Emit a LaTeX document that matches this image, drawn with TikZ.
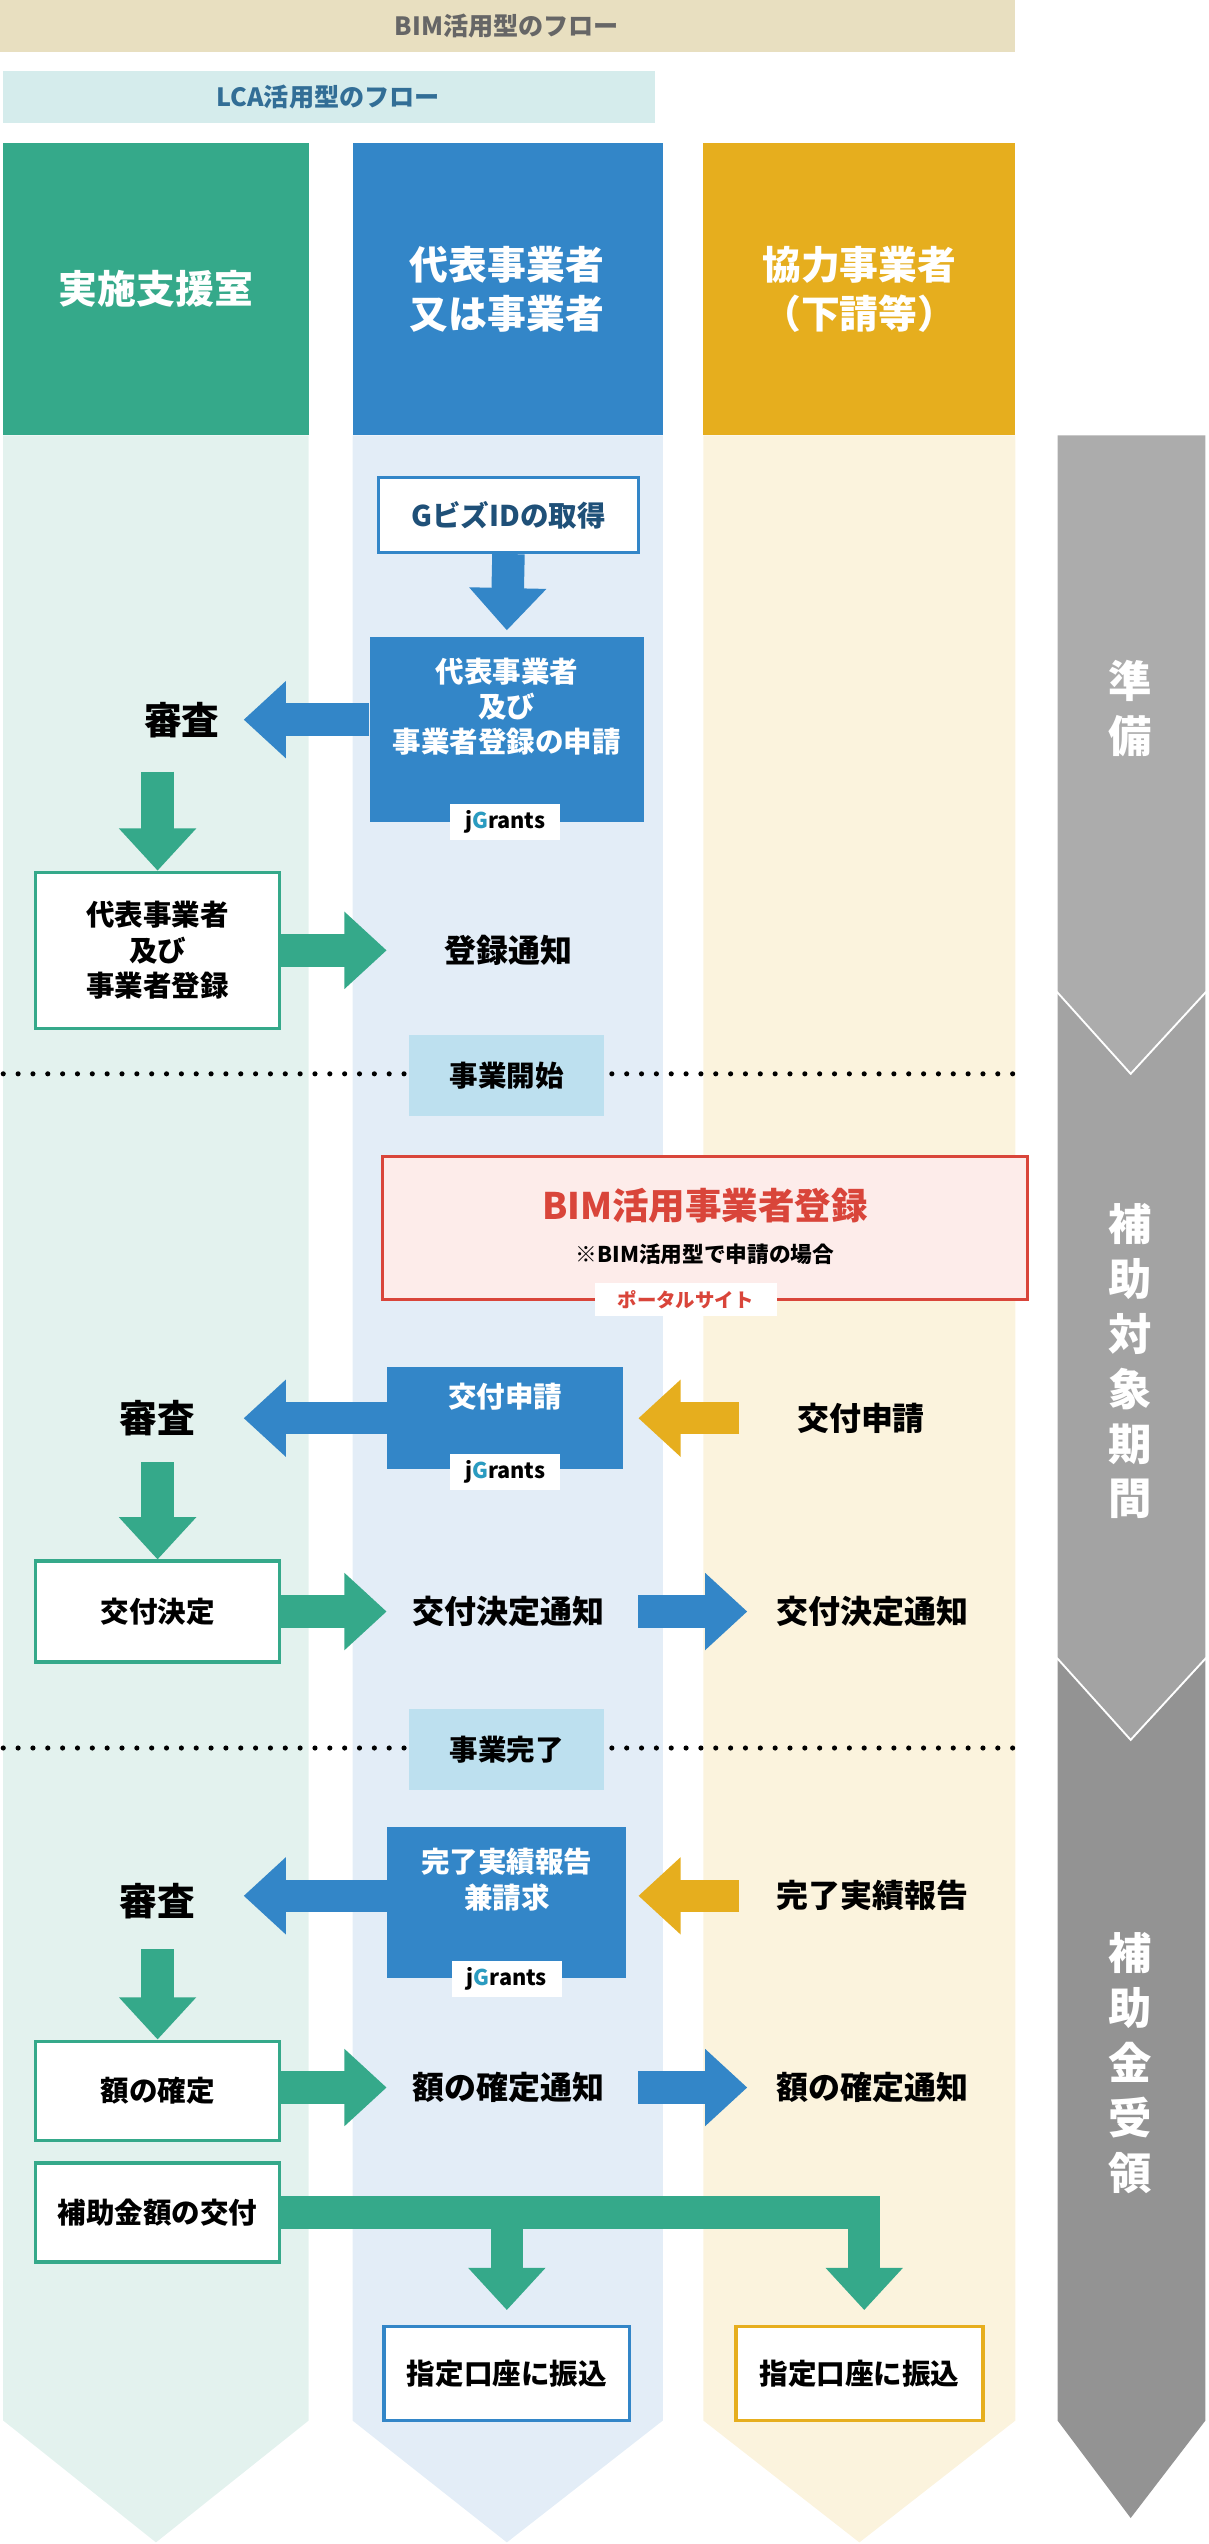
\documentclass[tikz,border=0pt]{standalone}
\usepackage{fontspec}
\setmainfont{Noto Sans CJK JP}
\usetikzlibrary{arrows.meta,positioning}
\definecolor{cgreen}{HTML}{35A98A}
\definecolor{cblue}{HTML}{3386C8}
\definecolor{cyellow}{HTML}{E6AE1E}
\definecolor{bgreen}{HTML}{E3F2EE}
\definecolor{bblue}{HTML}{E3EDF7}
\definecolor{byellow}{HTML}{FBF3DD}
\definecolor{cred}{HTML}{D9453A}
\definecolor{bred}{HTML}{FDECEA}
\definecolor{clight}{HTML}{BDE0EF}
\definecolor{jgblue}{HTML}{2A9BC0}
\definecolor{bimbg}{HTML}{E8DFC0}
\definecolor{lcabg}{HTML}{D5ECEC}
\definecolor{lcatxt}{HTML}{326E96}
\newcommand{\fs}[1]{\fontsize{#1}{\the\numexpr#1*5/4\relax}\selectfont}
\newcommand{\jg}{\fs{19}\bfseries j\textcolor{jgblue}{G}rants}
\tikzset{
  hdr/.style={text=white,font=\fs{34}\bfseries,align=center},
  wbox/.style={draw=#1,fill=white,line width=3pt,align=center,font=\fs{25}\bfseries},
  bbox/.style={fill=cblue,text=white,align=center,font=\fs{25}\bfseries},
  lbl/.style={font=\fs{28}\bfseries,align=center},
  shin/.style={font=\fs{33}\bfseries},
  tag/.style={fill=white,inner sep=2pt,minimum width=3.4cm,minimum height=1.1cm},
  sect/.style={fill=clight,font=\fs{25}\bfseries,minimum width=6cm,minimum height=2.5cm},
  fat/.style={#1,line width=1cm,-{Triangle[length=1.3cm,width=2.3cm]}},
  dots/.style={line width=4.5pt,line cap=round,dash pattern=on 0pt off 13pt},
  sidetxt/.style={text=white,font=\fs{38}\bfseries,align=center}
}
\begin{document}
\begin{tikzpicture}[x=0.05cm,y=-0.05cm]
\useasboundingbox (0,0) rectangle (744,1566);
% bars
\fill[bimbg] (0,0) rectangle (625,32);
\node[text=gray!80!black,font=\fs{22}\bfseries] (bimbar) at (312,16) {BIM活用型のフロー};
\fill[lcabg] (2,44) rectangle (403,76);
\node[text=lcatxt,font=\fs{22}\bfseries] (lcabar) at (202,60) {LCA活用型のフロー};
% column bodies
\fill[bgreen] (2,268) -- (190,268) -- (190,1490) -- (96,1565) -- (2,1490) -- cycle;
\fill[bblue] (217,268) -- (408,268) -- (408,1490) -- (312,1565) -- (217,1490) -- cycle;
\fill[byellow] (433,268) -- (625,268) -- (625,1490) -- (529,1565) -- (433,1490) -- cycle;
% headers
\fill[cgreen] (2,88) rectangle (190,268);
\fill[cblue] (217,88) rectangle (408,268);
\fill[cyellow] (433,88) rectangle (625,268);
\node[hdr] (h1) at (96,178) {実施支援室};
\node[hdr] (h2) at (312,178) {代表事業者\\又は事業者};
\node[hdr] (h3) at (529,178) {協力事業者\\（下請等）};
% side sections
\fill[gray!65] (651,268) -- (742,268) -- (742,610) -- (696,660) -- (651,610) -- cycle;
\fill[gray!72] (651,612) -- (696,662) -- (742,612) -- (742,1020) -- (696,1070) -- (651,1020) -- cycle;
\fill[gray!85] (651,1022) -- (696,1072) -- (742,1022) -- (742,1490) -- (696,1550) -- (651,1490) -- cycle;
\node[sidetxt] (s1) at (696,436) {準\\備};
\node[sidetxt] (s2) at (696,838) {補\\助\\対\\象\\期\\間};
\node[sidetxt] (s3) at (696,1270) {補\\助\\金\\受\\領};
% dotted lines
\draw[dots] (2,661) -- (625,661);
\draw[dots] (2,1076) -- (625,1076);
\node[sect] (start) at (312,662) {事業開始};
\node[sect] (done) at (312,1077) {事業完了};
% preparation
\node[wbox=cblue,text=cblue!60!black,minimum width=8cm,minimum height=2.3cm] (gbiz) at (313,317) {GビズIDの取得};
\node[bbox,minimum width=8.45cm,minimum height=5.7cm] (apply1) at (312,449) {代表事業者\\及び\\事業者登録の申請\\[0.4cm]};
\node[tag] (jg1) at (311,506) {\jg};
\node[shin] (sh1) at (112,443) {審査};
\node[wbox=cgreen,minimum width=7.5cm,minimum height=4.8cm] (reg) at (97,585) {代表事業者\\及び\\事業者登録};
\node[lbl] (notice1) at (313,585) {登録通知};
\draw[fat=cblue] (gbiz.south) -- (312,388);
\draw[fat=cblue] (apply1.west |- sh1) -- (150,443);
\draw[fat=cgreen] (97,475) -- (reg.north);
\draw[fat=cgreen] (reg.east) -- (238,585);
% BIM
\node[draw=cred,fill=bred,line width=3pt,minimum width=19.85cm,minimum height=4.4cm] (bim) at (434,756) {};
\node[text=cred,font=\fs{32}\bfseries] (bimt) at (434,742) {BIM活用事業者登録};
\node[font=\fs{19}\bfseries] (bimn) at (434,772) {※BIM活用型で申請の場合};
\node[tag,text=cred,font=\fs{17}\bfseries,minimum width=5.6cm,minimum height=1cm] (portal) at (422,800) {ポータルサイト};
% grant application
\node[bbox,minimum width=7.25cm,minimum height=3.15cm] (apply2) at (311,873) {交付申請\\[0.3cm]};
\node[tag] (jg2) at (311,906) {\jg};
\node[shin] (sh2) at (97,873) {審査};
\node[lbl] (ap3) at (530,873) {交付申請};
\draw[fat=cblue] (apply2.west) -- (150,873);
\draw[fat=cyellow] (455,873) -- (393,873);
\node[wbox=cgreen,minimum width=7.5cm,minimum height=3.1cm] (dec) at (97,992) {交付決定};
\node[lbl] (dn2) at (313,992) {交付決定通知};
\node[lbl] (dn3) at (537,992) {交付決定通知};
\draw[fat=cgreen] (97,900) -- (dec.north);
\draw[fat=cgreen] (dec.east) -- (238,992);
\draw[fat=cblue] (393,992) -- (460,992);
% completion
\node[bbox,minimum width=7.35cm,minimum height=4.65cm] (rep) at (312,1171) {完了実績報告\\兼請求\\[0.4cm]};
\node[tag] (jg3) at (312,1218) {\jg};
\node[shin] (sh3) at (97,1170) {審査};
\node[lbl] (rep3) at (537,1167) {完了実績報告};
\draw[fat=cblue] (rep.west |- 0,1167) -- (150,1167);
\draw[fat=cyellow] (455,1167) -- (393,1167);
\node[wbox=cgreen,minimum width=7.5cm,minimum height=3.05cm] (fix) at (97,1287) {額の確定};
\node[lbl] (fn2) at (313,1285) {額の確定通知};
\node[lbl] (fn3) at (537,1285) {額の確定通知};
\draw[fat=cgreen] (97,1200) -- (fix.north);
\draw[fat=cgreen] (fix.east |- 0,1285) -- (238,1285);
\draw[fat=cblue] (393,1285) -- (460,1285);
\node[wbox=cgreen,minimum width=7.5cm,minimum height=3.05cm] (pay) at (97,1362) {補助金額の交付};
\node[wbox=cblue,minimum width=7.55cm,minimum height=2.9cm] (acc2) at (312,1461) {指定口座に振込};
\node[wbox=cyellow,minimum width=7.6cm,minimum height=2.9cm] (acc3) at (529,1461) {指定口座に振込};
\draw[fat=cgreen,line join=miter] (pay.east) -| (532,1422);
\draw[fat=cgreen] (312,1357) -- (312,1422);
\end{tikzpicture}
\end{document}
